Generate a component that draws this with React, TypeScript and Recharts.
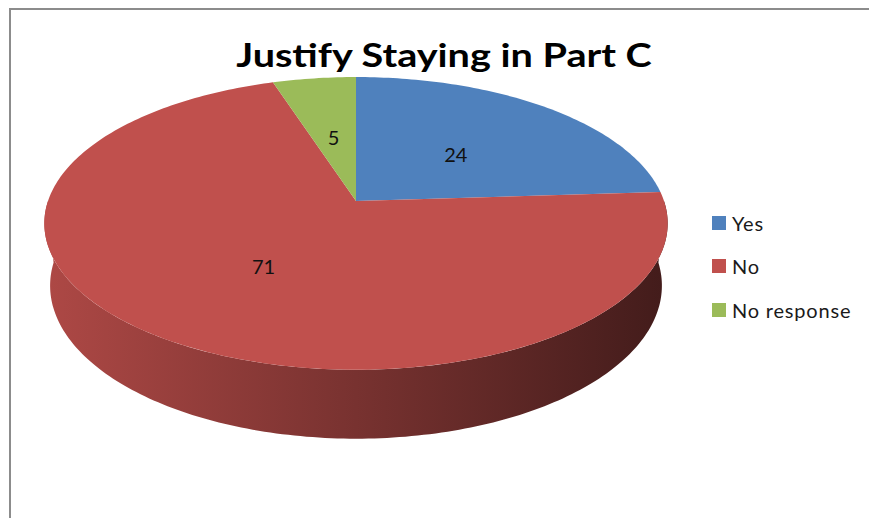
import React from 'react';
import { PieChart, Pie, Cell, Legend } from 'recharts';

const categories = ['Yes', 'No', 'No response'];
const values = [24, 71, 5];
const colors = ['#4F81BD', '#C0504D', '#9BBB59'];
const title = 'Justify Staying in Part C';

const data = categories.map((name, i) => ({ name, value: values[i] }));

// perspective projection parameters of the 3D pie
const SIN = 0.464;
const COS = 0.886;
const DIST = 5.79;
const DEPTH = 0.23;

function project(cx: number, cy: number, R: number, X: number, F: number, H: number): [number, number] {
  const yc = -F * SIN + H * COS;
  const z = DIST - F * COS - H * SIN;
  return [cx + (R * DIST * X) / z, cy - (R * DIST * yc) / z];
}

function arcPts(cx: number, cy: number, R: number, a: number, b: number, H: number): [number, number][] {
  const n = Math.max(2, Math.ceil(Math.abs(b - a)));
  const pts: [number, number][] = [];
  for (let i = 0; i <= n; i++) {
    const t = ((a + ((b - a) * i) / n) * Math.PI) / 180;
    pts.push(project(cx, cy, R, Math.cos(t), -Math.sin(t), H));
  }
  return pts;
}

function shade(hex: string, k: number) {
  const h = hex.replace('#', '');
  const r = Math.round(parseInt(h.slice(0, 2), 16) * k);
  const g = Math.round(parseInt(h.slice(2, 4), 16) * k);
  const b = Math.round(parseInt(h.slice(4, 6), 16) * k);
  return `rgb(${r},${g},${b})`;
}

const toPath = (pts: [number, number][]) =>
  pts.map((p, i) => `${i ? 'L' : 'M'}${p[0].toFixed(2)},${p[1].toFixed(2)}`).join('') + 'Z';

const Slice3D = (props: any) => {
  const { cx, cy, outerRadius: R, startAngle, endAngle, fill } = props;
  const lo = Math.min(startAngle, endAngle);
  const hi = Math.max(startAngle, endAngle);
  const id = `wall-${String(fill).replace('#', '')}`;
  const walls: string[] = [];
  for (let k = -2; k <= 2; k++) {
    const s = Math.max(lo, -180 + 360 * k);
    const e = Math.min(hi, 360 * k);
    if (e > s) {
      const top = arcPts(cx, cy, R, s, e, 0);
      const bot = arcPts(cx, cy, R, e, s, -DEPTH);
      walls.push(toPath([...top, ...bot]));
    }
  }
  const topFace = toPath([[cx, cy], ...arcPts(cx, cy, R, lo, hi, 0)]);
  return (
    <g>
      <defs>
        <linearGradient id={id} gradientUnits="userSpaceOnUse" x1={cx - R} x2={cx + R} y1={0} y2={0}>
          <stop offset="0%" stopColor={shade(fill, 0.9)} />
          <stop offset="100%" stopColor={shade(fill, 0.35)} />
        </linearGradient>
      </defs>
      {walls.map((d, i) => (
        <path key={i} d={d} fill={`url(#${id})`} stroke="none" />
      ))}
      <path d={topFace} fill={fill} stroke="none" />
    </g>
  );
};

const renderLabel = (props: any) => {
  const { cx, cy, outerRadius: R, midAngle, value } = props;
  const t = (midAngle * Math.PI) / 180;
  const [x, y] = project(cx, cy, R, 0.5 * Math.cos(t), -0.5 * Math.sin(t), 0);
  return (
    <text
      x={x}
      y={y + 2}
      textAnchor="middle"
      dominantBaseline="central"
      fill="#111"
      fontSize={20}
      fontFamily="Lato, 'Open Sans', sans-serif"
    >
      {value}
    </text>
  );
};

const renderLegend = (props: any) => {
  const payload = [...(props.payload || [])].sort(
    (a: any, b: any) => categories.indexOf(a.value) - categories.indexOf(b.value)
  );
  return (
    <div style={{ fontFamily: "Lato, 'Open Sans', sans-serif", fontSize: 20, color: '#1a1a1a' }}>
      {payload.map((entry: any, i: number) => (
        <div key={i} style={{ display: 'flex', alignItems: 'center', height: 43.5 }}>
          <span
            style={{ display: 'inline-block', width: 14, height: 14, background: entry.color, marginRight: 6 }}
          />
          <span style={{ letterSpacing: 0.8 }}>{entry.value}</span>
        </div>
      ))}
    </div>
  );
};

export default function App() {
  return (
    <div style={{ position: 'relative', width: 869, height: 518, background: '#fff', overflow: 'hidden' }}>
      <style>{`body{margin:0;background:#fff}`}</style>
      <div
        style={{
          position: 'absolute',
          left: 9,
          top: 8,
          width: 900,
          height: 600,
          borderTop: '2px solid #8c8c8c',
          borderLeft: '2px solid #8c8c8c',
          boxSizing: 'border-box',
        }}
      />
      <div
        style={{
          position: 'absolute',
          left: 0,
          width: 888,
          top: 38,
          textAlign: 'center',
          fontFamily: "Lato, 'Open Sans', sans-serif",
          fontWeight: 700,
          fontSize: 33,
          lineHeight: 1,
          color: '#000',
          transform: 'scaleX(1.2)',
          transformOrigin: '444px 0',
        }}
      >
        {title}
      </div>
      <div style={{ position: 'absolute', left: 0, top: 0 }}>
        <PieChart width={869} height={518} margin={{ top: 0, right: 0, bottom: 0, left: 0 }}>
          <Pie
            data={data}
            dataKey="value"
            nameKey="name"
            cx={356}
            cy={201}
            outerRadius={308}
            startAngle={90}
            endAngle={-270}
            stroke="none"
            isAnimationActive={false}
            labelLine={false}
            label={renderLabel}
            shape={Slice3D}
            inactiveShape={Slice3D}
            activeShape={Slice3D}
          >
            {data.map((d, i) => (
              <Cell key={d.name} fill={colors[i]} />
            ))}
          </Pie>
          <Legend
            layout="vertical"
            align="right"
            verticalAlign="top"
            content={renderLegend}
            wrapperStyle={{ left: 712, top: 201, right: 'auto', bottom: 'auto', width: 157 }}
          />
        </PieChart>
      </div>
    </div>
  );
}
